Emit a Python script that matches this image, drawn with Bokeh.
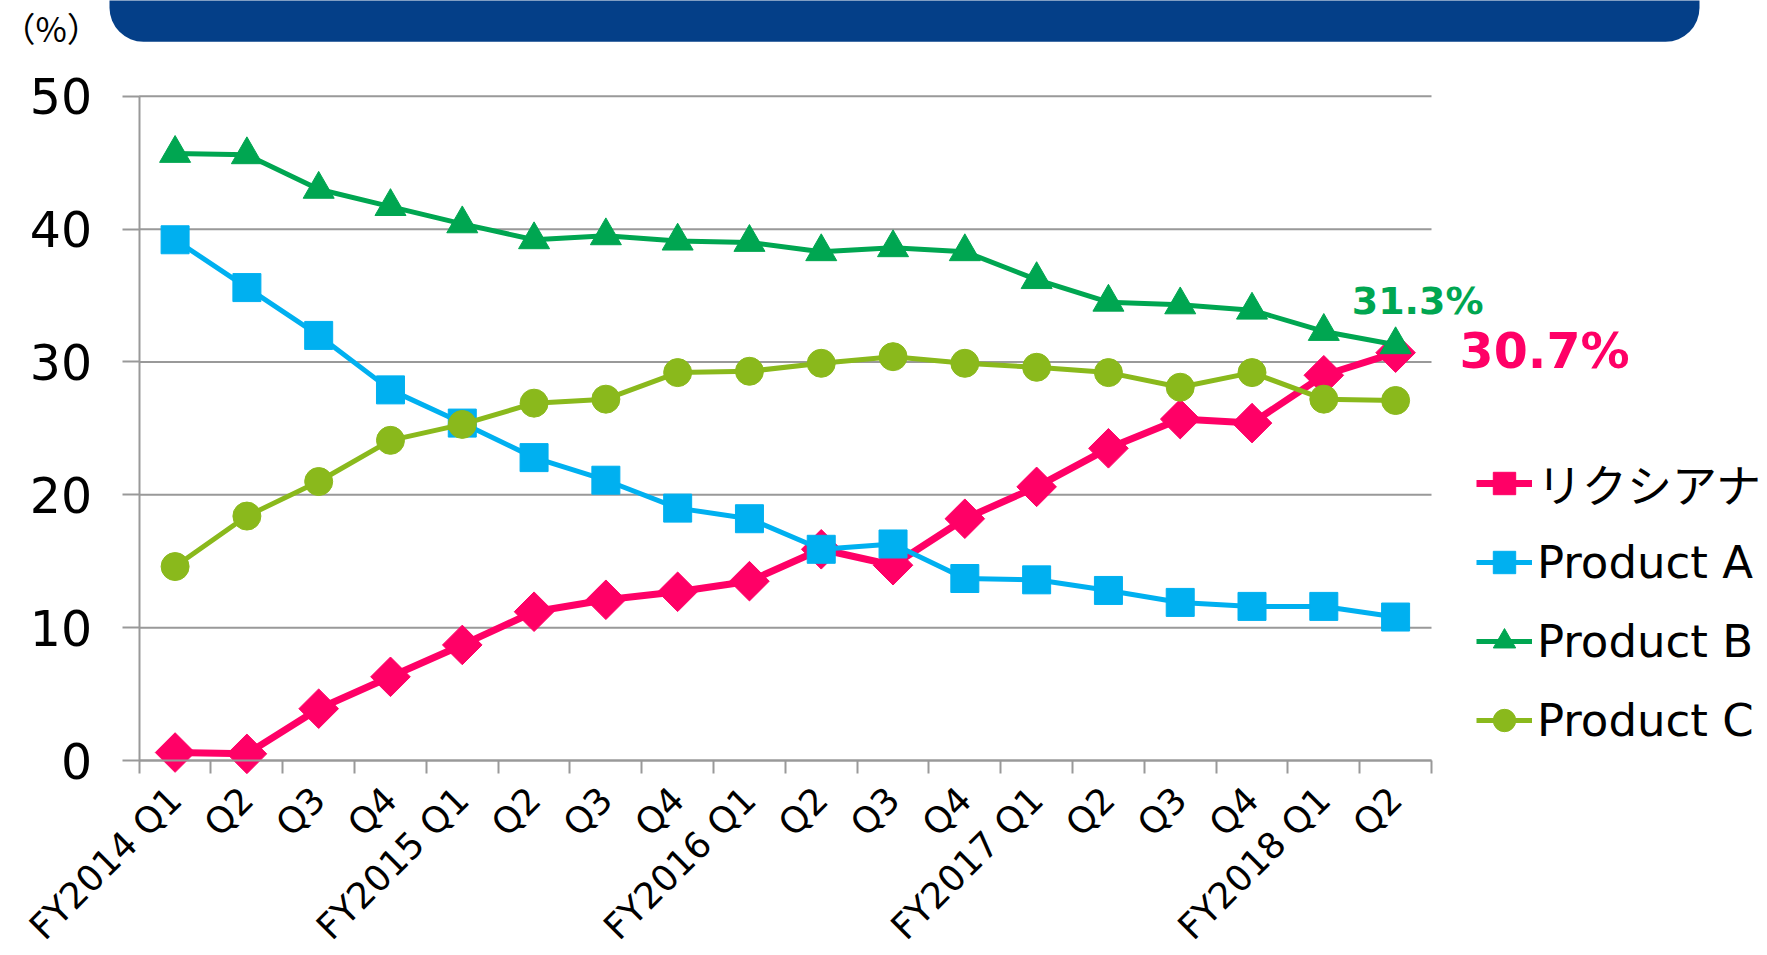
import math
from bokeh.plotting import figure
from bokeh.models import (Range1d, FixedTicker, Legend, LegendItem, Label,
                          BoxAnnotation)
from bokeh.embed import file_html
from bokeh.resources import INLINE

# ---------------- data ----------------
quarters = ["FY2014 Q1", "Q2", "Q3", "Q4",
            "FY2015 Q1", "Q2", "Q3", "Q4",
            "FY2016 Q1", "Q2", "Q3", "Q4",
            "FY2017 Q1", "Q2", "Q3", "Q4",
            "FY2018 Q1", "Q2"]
lixiana = [0.6, 0.5, 3.9, 6.3, 8.7, 11.2, 12.1, 12.7, 13.5,
           15.9, 14.7, 18.2, 20.6, 23.5, 25.7, 25.4, 29.0, 30.7]
product_a = [39.2, 35.6, 32.0, 27.9, 25.4, 22.8, 21.1, 19.0, 18.2,
             15.9, 16.3, 13.7, 13.6, 12.8, 11.9, 11.6, 11.6, 10.8]
product_b = [45.7, 45.6, 43.0, 41.7, 40.4, 39.2, 39.5, 39.1, 39.0,
             38.3, 38.6, 38.3, 36.2, 34.5, 34.3, 33.9, 32.3, 31.3]
product_c = [14.6, 18.4, 21.0, 24.1, 25.3, 26.9, 27.2, 29.2, 29.3,
             29.9, 30.4, 29.9, 29.6, 29.2, 28.1, 29.2, 27.2, 27.1]
series_names = ["リクシアナ", "Product A", "Product B", "Product C"]
y_ticks = [0, 10, 20, 30, 40, 50]
unit_label = "（%）"

# ---------------- styles / layout ----------------
PINK = "#FF0066"
BLUE = "#00B0F0"
GREEN = "#00A651"
OLIVE = "#8AB91C"
NAVY = "#043F88"
GRAY = "#999999"
FONT = "DejaVu Sans"

W, H = 1767, 955
n = len(quarters)
Y_MAX = 50

# plot area in page pixels: categories span [AX_LEFT, AX_RIGHT], values [AX_BOTTOM, AX_TOP]
AX_LEFT, AX_RIGHT = 138.7, 1431.0
AX_BOTTOM, AX_TOP = 760.0, 95.8
PX_X = (AX_RIGHT - AX_LEFT) / n
PX_Y = (AX_BOTTOM - AX_TOP) / Y_MAX


def xd(px):
    """page x pixel -> data x"""
    return (px - AX_LEFT) / PX_X


def yd(py):
    """page y pixel -> data y"""
    return (AX_BOTTOM - py) / PX_Y


xs = [i + 0.5 for i in range(n)]

p = figure(width=W, height=H, output_backend="svg", toolbar_location=None,
           x_range=Range1d(xd(0), xd(W)), y_range=Range1d(yd(H), yd(0)),
           min_border=0)
p.outline_line_color = None
p.xgrid.visible = False
p.ygrid.visible = False

# banner at the top
p.add_layout(BoxAnnotation(left=xd(109), right=xd(1699), bottom=yd(41.3),
                           top=yd(-80), fill_color=NAVY, fill_alpha=1.0,
                           line_color=None, border_radius=34,
                           level="underlay"))

# horizontal gridlines, limited to the category area
p.segment(x0=[0] * len(y_ticks), y0=y_ticks, x1=[n] * len(y_ticks),
          y1=y_ticks, line_color=GRAY, line_width=2, level="underlay")

# y axis
ya = p.yaxis[0]
ya.fixed_location = 0
ya.bounds = (0, Y_MAX)
ya.ticker = FixedTicker(ticks=y_ticks, minor_ticks=[])
ya.axis_line_color = GRAY
ya.axis_line_width = 2
ya.major_tick_line_color = GRAY
ya.major_tick_line_width = 2
ya.major_tick_out = 17
ya.major_tick_in = 0
ya.minor_tick_out = 0
ya.minor_tick_in = 0
ya.major_label_text_font = FONT
ya.major_label_text_font_size = "49px"
ya.major_label_text_color = "black"
ya.major_label_standoff = 30

# x axis
xa = p.xaxis[0]
xa.fixed_location = 0
xa.bounds = (0, n)
xa.ticker = FixedTicker(ticks=xs, minor_ticks=list(range(n + 1)))
xa.major_label_overrides = {x: q for x, q in zip(xs, quarters)}
xa.axis_line_color = GRAY
xa.axis_line_width = 2
xa.major_tick_out = 0
xa.major_tick_in = 0
xa.minor_tick_out = 13
xa.minor_tick_in = 0
xa.minor_tick_line_color = GRAY
xa.minor_tick_line_width = 2
xa.major_label_orientation = math.pi / 4
xa.major_label_text_font = FONT
xa.major_label_text_font_size = "36px"
xa.major_label_text_color = "black"
xa.major_label_standoff = 20

# series
specs = [
    (lixiana, PINK, 7, dict(marker="square", angle=math.pi / 4, size=28)),
    (product_a, BLUE, 5, dict(marker="square", size=28)),
    (product_b, GREEN, 5, dict(marker="triangle", size=31)),
    (product_c, OLIVE, 5, dict(marker="circle", size=28)),
]
items = []
for (vals, col, lw, mk), name in zip(specs, series_names):
    ln = p.line(xs, vals, line_color=col, line_width=lw)
    sc = p.scatter(xs, vals, fill_color=col, line_color=col, line_width=1, **mk)
    items.append(LegendItem(label=name, renderers=[ln, sc]))

legend = Legend(items=items, location=(1476, 200), orientation="vertical",
                glyph_width=56, glyph_height=70, label_standoff=5, spacing=9,
                padding=0, margin=0, border_line_color=None,
                background_fill_alpha=0,
                label_text_font="DejaVu Sans, Noto Sans CJK JP",
                label_text_font_size="45px", label_text_color="black")
p.add_layout(legend)

# value labels
p.add_layout(Label(x=xs[-1], y=product_b[-1], x_offset=22, y_offset=44,
                   text=f"{product_b[-1]:.1f}%", text_align="center",
                   text_baseline="alphabetic", text_font=FONT,
                   text_font_style="bold", text_font_size="38px",
                   text_color=GREEN))
p.add_layout(Label(x=xs[-1], y=lixiana[-1], x_offset=64, y_offset=1,
                   text=f"{lixiana[-1]:.1f}%", text_align="left",
                   text_baseline="alphabetic", text_font=FONT,
                   text_font_style="bold", text_font_size="49px",
                   text_color=PINK))

# unit label
p.add_layout(Label(x=xd(1), y=yd(27), text=unit_label, text_align="left",
                   text_baseline="middle", text_font="Noto Sans CJK JP",
                   text_font_size="34px", text_color="black"))

open("out.html", "w").write(file_html(p, INLINE))
